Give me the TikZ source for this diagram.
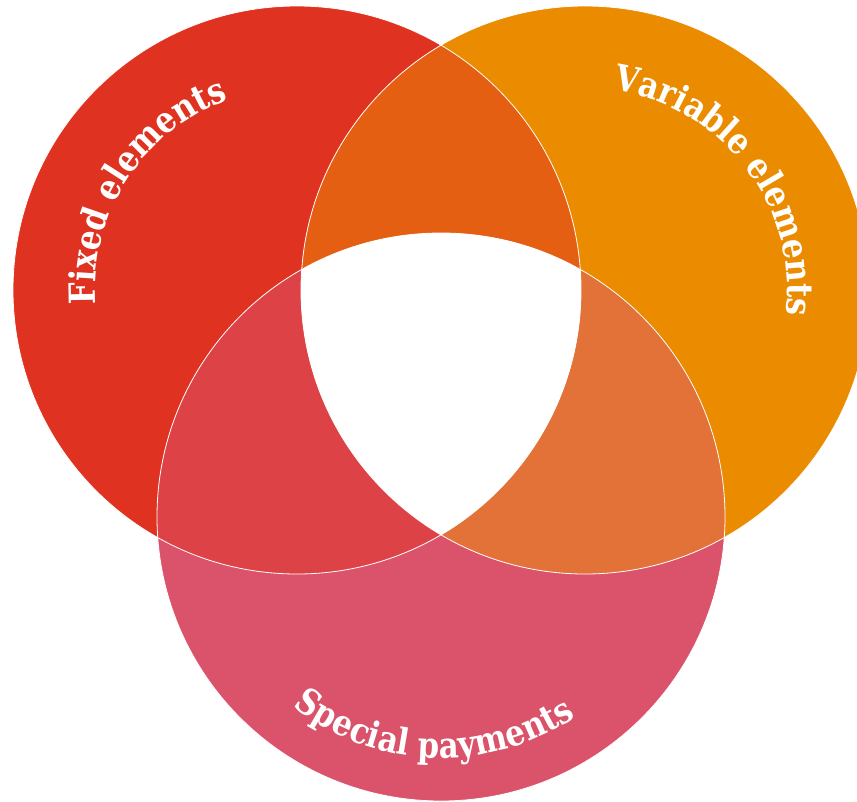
\documentclass[tikz,border=0pt]{standalone}
\usepackage{fontspec}
\newfontfamily\lblfont{DejaVu Serif}[FakeStretch=0.86]
\usetikzlibrary{decorations.text,calc}
\definecolor{cRed}{HTML}{DF3220}
\definecolor{cOrange}{HTML}{EB8C00}
\definecolor{cPink}{HTML}{DA536B}
\definecolor{cLR}{HTML}{E55F12}
\definecolor{cLB}{HTML}{DD4346}
\definecolor{cRB}{HTML}{E27237}
\tikzset{
  outline/.style={draw=white, line width=0.8pt},
  curvedlabel/.style={decorate, decoration={text along path, text align=center, text color=white,
     text={|\lblfont\bfseries\fontsize{36}{36}\selectfont|#1}}}
}
\begin{document}
\begin{tikzpicture}[x=1pt,y=1pt]
\useasboundingbox (0,0) rectangle (857,-801);
\clip (0,0) rectangle (857,-801);
\coordinate (cL) at (297,-290);
\coordinate (cR) at (585,-290);
\coordinate (cB) at (441,-517);
\def\rr{284}
% base circles
\fill[cRed] (cL) circle[radius=\rr];
\fill[cOrange] (cR) circle[radius=\rr];
\fill[cPink] (cB) circle[radius=\rr];
% pairwise overlaps
\begin{scope}
  \clip (cL) circle[radius=\rr];
  \fill[cLR] (cR) circle[radius=\rr];
  \fill[cLB] (cB) circle[radius=\rr];
\end{scope}
\begin{scope}
  \clip (cR) circle[radius=\rr];
  \fill[cRB] (cB) circle[radius=\rr];
\end{scope}
% triple overlap
\begin{scope}
  \clip (cL) circle[radius=\rr];
  \clip (cR) circle[radius=\rr];
  \fill[white] (cB) circle[radius=\rr];
\end{scope}
% outlines
\draw[outline] (cL) circle[radius=\rr];
\draw[outline] (cR) circle[radius=\rr];
\draw[outline] (cB) circle[radius=\rr];
% labels
\path[curvedlabel={Fixed elements}] ($(cL)+(186:202)$) arc[start angle=186, end angle=108, radius=202];
\path[curvedlabel={Variable elements}] ($(cR)+(84:202)$) arc[start angle=84, end angle=-9, radius=202];
\path[curvedlabel={Special payments}] ($(cB)+(232:241)$) arc[start angle=232, end angle=304, radius=241];
\end{tikzpicture}
\end{document}
